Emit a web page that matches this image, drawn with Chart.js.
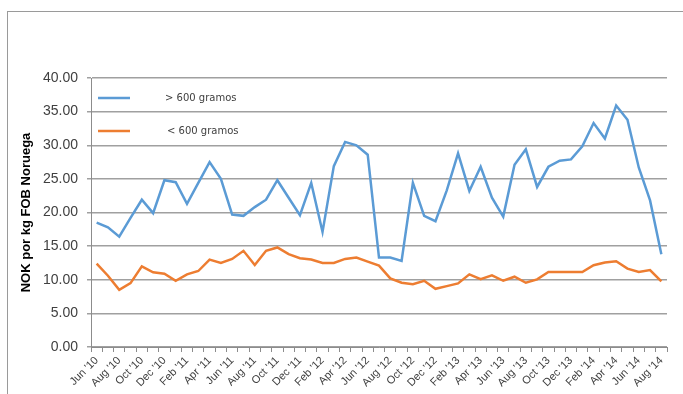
<!DOCTYPE html>
<html>
<head>
<meta charset="utf-8">
<script src="https://cdn.jsdelivr.net/npm/chart.js@4"></script>
<style>
  html, body { margin: 0; padding: 0; background: #fff; overflow: hidden; }
  #wrap { position: relative; width: 683px; height: 394px; }
  #frame { position: absolute; left: 7px; top: 11px; width: 720px; height: 420px; border: 1px solid #9a9a9a; box-sizing: border-box; pointer-events: none; }
  canvas { position: absolute; left: 0; top: 0; }
</style>
</head>
<body>
<div id="wrap">
  <canvas id="c" width="683" height="394"></canvas>
  <div id="frame"></div>
</div>
<script>
const months = [
  "Jun '10","Jul '10","Aug '10","Sep '10","Oct '10","Nov '10","Dec '10",
  "Jan '11","Feb '11","Mar '11","Apr '11","May '11","Jun '11","Jul '11","Aug '11","Sep '11","Oct '11","Nov '11","Dec '11",
  "Jan '12","Feb '12","Mar '12","Apr '12","May '12","Jun '12","Jul '12","Aug '12","Sep '12","Oct '12","Nov '12","Dec '12",
  "Jan '13","Feb '13","Mar '13","Apr '13","May '13","Jun '13","Jul '13","Aug '13","Sep '13","Oct '13","Nov '13","Dec '13",
  "Jan '14","Feb '14","Mar '14","Apr '14","May '14","Jun '14","Jul '14","Aug '14"
];
const seriesNames = ["> 600 gramos", "< 600 gramos"];
const over600 = [
  18.5, 17.8, 16.4, 19.2, 21.9, 19.9, 24.8,
  24.5, 21.3, 24.4, 27.5, 25.0, 19.7, 19.5, 20.8, 21.9, 24.8, 22.2, 19.6,
  24.4, 17.1, 26.9, 30.5, 30.0, 28.6, 13.3, 13.3, 12.8, 24.4, 19.5, 18.7,
  23.3, 28.8, 23.2, 26.8, 22.2, 19.4, 27.1, 29.4, 23.8, 26.8, 27.7, 27.9,
  29.85, 33.3, 31.0, 35.9, 33.8, 26.7, 21.8, 13.8
];
const under600 = [
  12.4, 10.6, 8.5, 9.5, 12.0, 11.1, 10.9,
  9.85, 10.8, 11.3, 13.0, 12.5, 13.1, 14.3, 12.2, 14.3, 14.8, 13.8, 13.2,
  13.0, 12.5, 12.5, 13.1, 13.3, 12.7, 12.1, 10.2, 9.55, 9.35, 9.85, 8.65,
  9.05, 9.45, 10.8, 10.1, 10.65, 9.85, 10.45, 9.55, 10.05, 11.15, 11.15, 11.15,
  11.15, 12.15, 12.55, 12.75, 11.65, 11.15, 11.45, 9.75
];
const yTicks = [0, 5, 10, 15, 20, 25, 30, 35, 40];
const yTitle = "NOK por kg FOB Noruega";

const insideLegend = {
  id: 'insideLegend',
  afterDatasetsDraw(chart) {
    const ctx = chart.ctx;
    const a = chart.chartArea;
    ctx.save();
    ctx.font = '10px "DejaVu Sans", sans-serif';
    ctx.fillStyle = '#404040';
    ctx.textBaseline = 'middle';
    chart.data.datasets.forEach((ds, i) => {
      const y = a.top + 20 + i * 33;
      ctx.strokeStyle = ds.borderColor;
      ctx.lineWidth = 2.5;
      ctx.beginPath();
      ctx.moveTo(a.left + 7, y);
      ctx.lineTo(a.left + 39, y);
      ctx.stroke();
      ctx.fillText(ds.label, a.left + 74 + i * 2, y);
    });
    ctx.restore();
  }
};

new Chart(document.getElementById('c'), {
  type: 'line',
  data: {
    labels: months,
    datasets: [
      { label: seriesNames[0], data: over600, borderColor: '#5B9BD5', backgroundColor: '#5B9BD5', borderWidth: 2.5, pointRadius: 0, tension: 0, fill: false },
      { label: seriesNames[1], data: under600, borderColor: '#ED7D31', backgroundColor: '#ED7D31', borderWidth: 2.5, pointRadius: 0, tension: 0, fill: false }
    ]
  },
  options: {
    responsive: false,
    animation: false,
    layout: { padding: { left: 0, top: 78, right: 16, bottom: 0 } },
    plugins: { legend: { display: false }, tooltip: { enabled: false } },
    scales: {
      x: {
        type: 'category',
        offset: true,
        grid: { display: true, drawOnChartArea: false, drawTicks: true, tickLength: 5, offset: true, color: '#8c8c8c', lineWidth: 1 },
        border: { display: true, color: '#8c8c8c', width: 1 },
        ticks: {
          autoSkip: false,
          maxRotation: 45, minRotation: 45,
          padding: 2,
          color: '#404040',
          font: { family: '"Liberation Sans", Arial, sans-serif', size: 11 },
          callback: function(v, i) { return i % 2 === 0 ? this.getLabelForValue(v) : ''; }
        },
        afterFit(scale) { scale.height = 47; }
      },
      y: {
        min: 0, max: 40,
        afterBuildTicks(scale) { scale.ticks = yTicks.map(v => ({ value: v })); },
        grid: { color: '#a0a0a0', lineWidth: 1.5, drawTicks: true, tickLength: 4 },
        border: { display: true, color: '#8c8c8c', width: 1 },
        ticks: {
          padding: 9,
          color: '#404040',
          font: { family: '"Liberation Sans", Arial, sans-serif', size: 14 },
          callback: (v) => Number(v).toFixed(2)
        },
        title: {
          display: true,
          text: yTitle,
          color: '#000',
          font: { family: '"Liberation Sans", Arial, sans-serif', size: 13, weight: 'bold' },
          padding: { top: 19, bottom: 0 }
        },
        afterFit(scale) { scale.width = 91; }
      }
    }
  },
  plugins: [insideLegend]
});
</script>
</body>
</html>
